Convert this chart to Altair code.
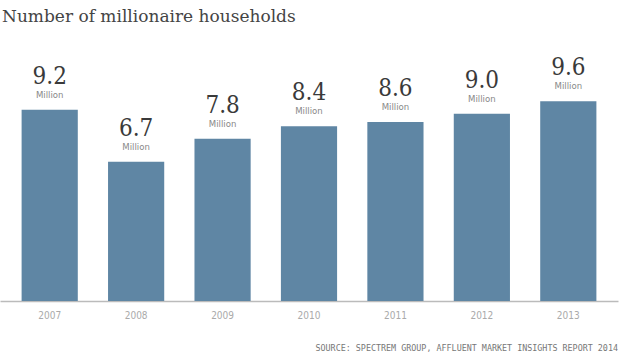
import altair as alt
import pandas as pd

years = ["2007", "2008", "2009", "2010", "2011", "2012", "2013"]
values = [9.2, 6.7, 7.8, 8.4, 8.6, 9.0, 9.6]
labels = ["9.2", "6.7", "7.8", "8.4", "8.6", "9.0", "9.6"]
unit = "Million"
title_text = "Number of millionaire households"
source_text = "SOURCE: SPECTREM GROUP, AFFLUENT MARKET INSIGHTS REPORT 2014"

df = pd.DataFrame({"year": years, "value": values, "label": labels, "unit": [unit] * len(years)})

narrow = "DejaVu Sans Condensed, Liberation Sans Narrow, Liberation Sans"
serif_c = "DejaVu Serif Condensed, DejaVu Serif"

x = alt.X("year:N", sort=years,
          scale=alt.Scale(paddingInner=0.35, paddingOuter=0.25),
          axis=alt.Axis(title=None, labelAngle=0, ticks=False, labelPadding=9,
                        labelFont=narrow, labelFontSize=10,
                        labelColor="#aaaaaa", domainColor="#bbbbbb", domainWidth=1.5,
                        grid=False))
y = alt.Y("value:Q", scale=alt.Scale(domain=[0, 10], nice=False), axis=None)

base = alt.Chart(df)
bars = base.mark_bar(color="#5f86a4").encode(x=x, y=y)
vals = base.mark_text(font=serif_c, fontSize=24, color="#3a3a3a",
                      baseline="alphabetic", dy=-26).encode(x=x, y=y, text="label:N")
units = base.mark_text(font=narrow, fontSize=9.5, color="#888888",
                       baseline="alphabetic", dy=-12).encode(x=x, y=y, text="unit:N")
src = alt.Chart(pd.DataFrame({"t": [source_text]})).mark_text(
    font="DejaVu Sans Mono", fontSize=8.4, color="#777777", align="right",
    baseline="alphabetic").encode(x=alt.value(618), y=alt.value(258), text="t:N")

chart = alt.layer(bars, vals, units, src).properties(
    width=618, height=208,
    title=alt.TitleParams(title_text, anchor="start", frame="group", offset=30,
                          font="DejaVu Serif", fontSize=17, fontWeight="normal",
                          color="#444444", dx=2),
    padding={"left": 0, "top": 93, "right": 2, "bottom": 51},
    autosize=alt.AutoSizeParams(type="none"),
).configure_view(stroke=None)

chart.save("out.html", embed_options={"renderer": "svg", "actions": False})
